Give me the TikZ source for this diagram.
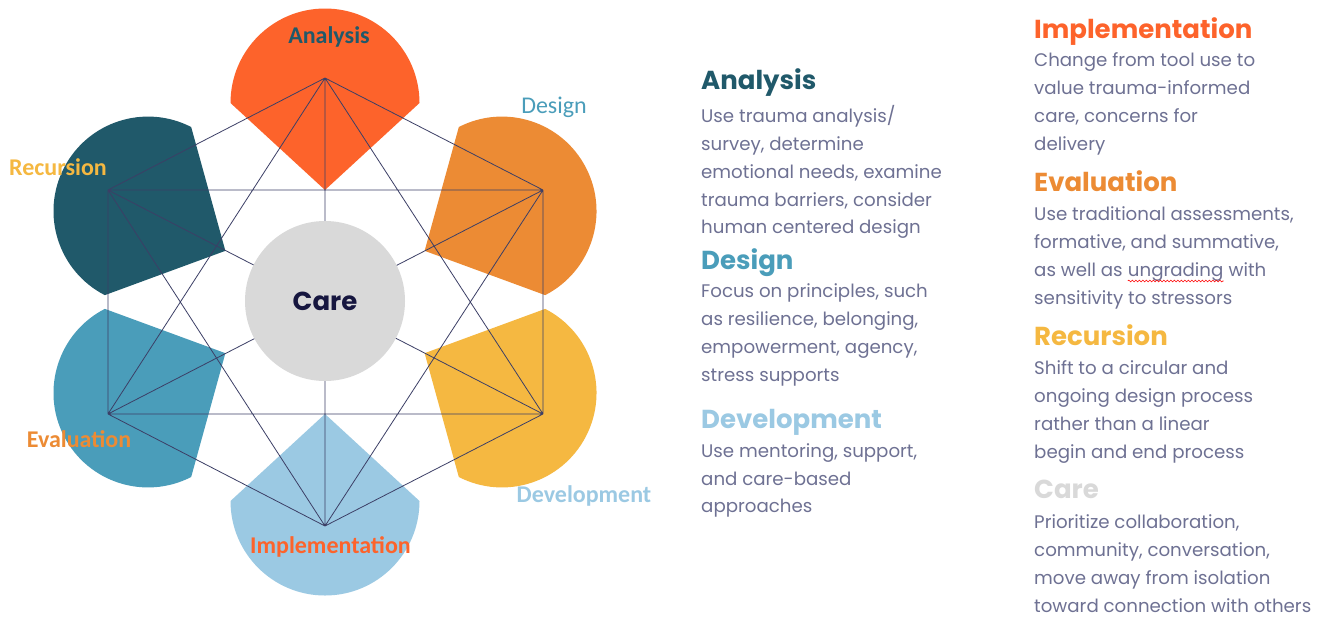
\documentclass[tikz,border=0pt]{standalone}
\usepackage{fontspec}
\usetikzlibrary{calc,decorations.pathmorphing}
\newfontfamily\pop{Poppins}
\newfontfamily\carl{Carlito}
\definecolor{cRed}{HTML}{FD632B}
\definecolor{cOrange}{HTML}{EC8B34}
\definecolor{cYellow}{HTML}{F5B841}
\definecolor{cLight}{HTML}{9BC9E3}
\definecolor{cMid}{HTML}{4A9DBA}
\definecolor{cDark}{HTML}{20596A}
\definecolor{cGrey}{HTML}{D9D9D9}
\definecolor{cNavy}{HTML}{16163F}
\definecolor{cBody}{HTML}{6E7193}
\definecolor{cLine}{HTML}{3C3F66}
\newcommand\drawpetal[2]{%
  \fill[#1] ($(C)+(#2:112)$) -- ($(C)+(#2:199)+(#2-90:94.5)$)
    arc[start angle=#2-90, end angle=#2+90, radius=94.5pt] -- cycle;}
\begin{document}
\begin{tikzpicture}[x=1pt,y=1pt,
  edge/.style={draw=cLine, line width=0.8pt},
  lab/.style={inner sep=0pt, anchor=base, font=\carl\bfseries\fontsize{24}{28}\selectfont},
  head/.style={inner sep=0pt, anchor=base west, font=\pop\bfseries\fontsize{26}{30}\selectfont},
  body/.style={inner sep=0pt, anchor=base west, text=cBody, font=\pop\fontsize{18.2}{28}\selectfont},
]
\useasboundingbox (0,0) rectangle (1324,-630);
\fill[white] (0,0) rectangle (1324,-630);
% geometry
\coordinate (C) at (325,-302);
\coordinate (T) at (325,-78);
\coordinate (B) at (325,-526);
\coordinate (UL) at (108,-190);
\coordinate (UR) at (543,-190);
\coordinate (LL) at (108,-414);
\coordinate (LR) at (543,-414);
% petals
\drawpetal{cRed}{90}
\drawpetal{cOrange}{27.19}
\drawpetal{cYellow}{-27.19}
\drawpetal{cLight}{270}
\drawpetal{cMid}{207.19}
\drawpetal{cDark}{152.81}
% complete graph
\draw[edge] (T)--(UL) (T)--(UR) (T)--(LL) (T)--(LR) (T)--(B)
  (UR)--(UL) (UR)--(LL) (UR)--(LR) (UR)--(B)
  (UL)--(LL) (UL)--(LR) (UL)--(B)
  (LL)--(LR) (LL)--(B) (LR)--(B);
% centre
\node[circle, fill=cGrey, minimum size=160pt, inner sep=0pt, text=cNavy,
  font=\pop\bfseries\fontsize{26}{30}\selectfont] (care) at (325,-301) {Care};
% petal labels
\node[lab, text=cDark] (lAna) at (329,-43) {Analysis};
\node[lab, text=cMid, font=\carl\fontsize{24}{28}\selectfont] (lDes) at (554,-113) {Design};
\node[lab, text=cLight] (lDev) at (584,-502) {Development};
\node[lab, text=cRed] (lImp) at (330.5,-553) {Implementation};
\node[lab, text=cOrange] (lEva) at (79,-447) {Evaluation};
\node[lab, text=cYellow] (lRec) at (58,-175) {Recursion};
% column 1
\node[head, text=cDark] (hA) at (701,-89) {Analysis};
\node[body] (a1) at (701,-122) {Use trauma analysis/};
\node[body] (a2) at (701,-150) {survey, determine};
\node[body] (a3) at (701,-178) {emotional needs, examine};
\node[body] (a4) at (701,-206) {trauma barriers, consider};
\node[body] (a5) at (701,-233) {human centered design};
\node[head, text=cMid] (hD) at (701,-269) {Design};
\node[body] (d1) at (701,-297) {Focus on principles, such};
\node[body] (d2) at (701,-325) {as resilience, belonging,};
\node[body] (d3) at (701,-353) {empowerment, agency,};
\node[body] (d4) at (701,-381) {stress supports};
\node[head, text=cLight] (hV) at (701,-428) {Development};
\node[body] (v1) at (701,-457) {Use mentoring, support,};
\node[body] (v2) at (701,-485) {and care-based};
\node[body] (v3) at (701,-512) {approaches};
% column 2
\node[head, text=cRed] (hI) at (1034,-38) {Implementation};
\node[body] (i1) at (1034,-66) {Change from tool use to};
\node[body] (i2) at (1034,-94) {value trauma-informed};
\node[body] (i3) at (1034,-122) {care, concerns for};
\node[body] (i4) at (1034,-150) {delivery};
\node[head, text=cOrange] (hE) at (1034,-191) {Evaluation};
\node[body] (e1) at (1034,-220) {Use traditional assessments,};
\node[body] (e2) at (1034,-248) {formative, and summative,};
\node[body] (e3) at (1034,-276) {as well as\ \mbox{}};
\node[body] (e3u) at (e3.base east) {ungrading};
\node[body] (e3w) at (e3u.base east) {\mbox{}\ with};
\draw[red, line width=0.6pt, decorate, decoration={snake, amplitude=0.9pt, segment length=3.5pt}]
  ([yshift=-5pt]e3u.base west) -- ([yshift=-5pt]e3u.base east);
\node[body] (e4) at (1034,-304) {sensitivity to stressors};
\node[head, text=cYellow] (hR) at (1034,-345) {Recursion};
\node[body] (r1) at (1034,-374) {Shift to a circular and};
\node[body] (r2) at (1034,-402) {ongoing design process};
\node[body] (r3) at (1034,-430) {rather than a linear};
\node[body] (r4) at (1034,-458) {begin and end process};
\node[head, text=cGrey] (hC) at (1034,-498) {Care};
\node[body] (c1) at (1034,-528) {Prioritize collaboration,};
\node[body] (c2) at (1034,-556) {community, conversation,};
\node[body] (c3) at (1034,-584) {move away from isolation};
\node[body] (c4) at (1034,-612) {toward connection with others};
\end{tikzpicture}
\end{document}
